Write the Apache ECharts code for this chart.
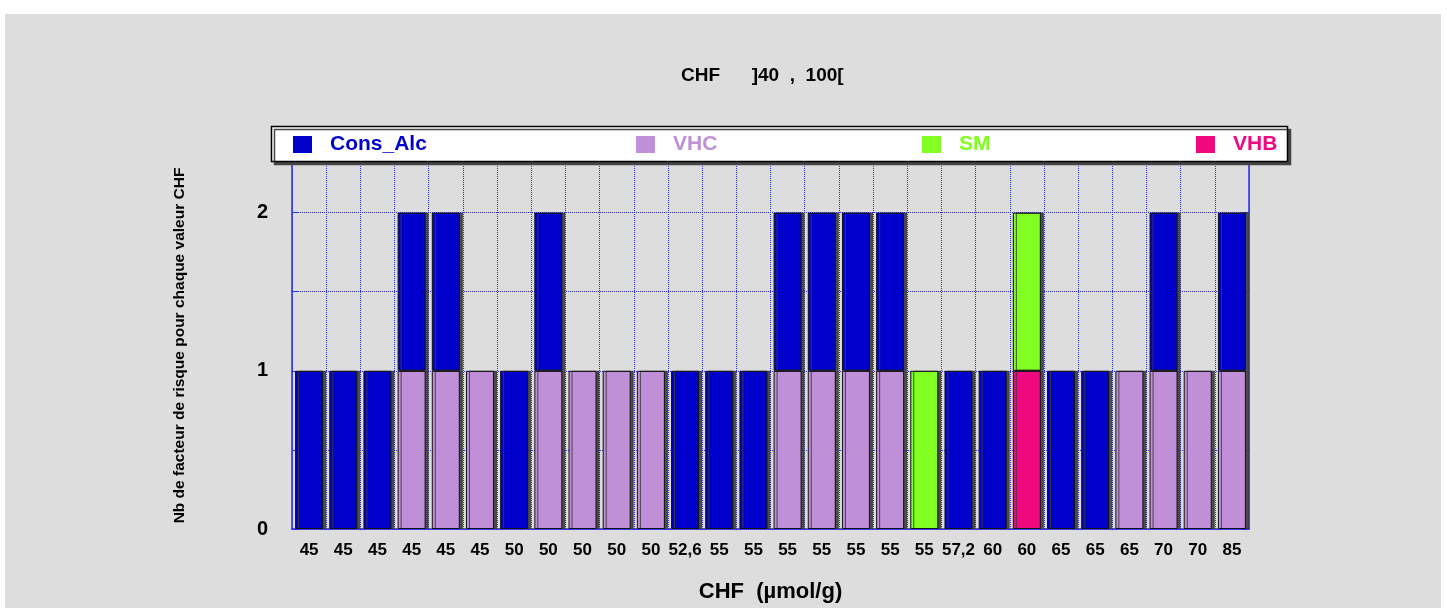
<!DOCTYPE html>
<html><head><meta charset="utf-8">
<script src="https://cdn.jsdelivr.net/npm/echarts@6/dist/echarts.min.js"></script>
<style>html,body{margin:0;padding:0;background:#fff;overflow:hidden;}#c{width:1447px;height:608px;}</style>
</head><body><div id="c"></div>
<script>
var categories = ['45','45','45','45','45','45','50','50','50','50','50','52,6','55','55','55','55','55','55','55','57,2','60','60','65','65','65','70','70','85'];
var consAlc = [1,1,1,1,1,0,1,1,0,0,0,1,1,1,1,1,1,1,0,1,1,0,1,1,0,1,0,1];
var vhc     = [0,0,0,1,1,1,0,1,1,1,1,0,0,0,1,1,1,1,0,0,0,0,0,0,1,1,1,1];
var sm      = [0,0,0,0,0,0,0,0,0,0,0,0,0,0,0,0,0,0,1,0,0,1,0,0,0,0,0,0];
var vhb     = [0,0,0,0,0,0,0,0,0,0,0,0,0,0,0,0,0,0,0,0,0,1,0,0,0,0,0,0];
var yTicks = [0,1,2];
var seriesNames = ['Cons_Alc','VHC','SM','VHB'];
var seriesColors = {'Cons_Alc':'#0000cc','VHC':'#bf8fd8','SM':'#80ff20','VHB':'#f0087f'};

function nz(a){return a.map(function(v){return v===0?null:v;});}
var font = 'Liberation Sans, Arial, sans-serif';
var grid = '#2b2bea';
function ser(name,data){
  return {name:name,type:'bar',stack:'s',data:nz(data),barWidth:28,
    itemStyle:{color:seriesColors[name],borderColor:'#111',borderWidth:1,shadowColor:'rgba(60,60,60,0.9)',shadowOffsetX:3,shadowOffsetY:0,shadowBlur:0}};
}
var legendLeft = [293,636,922,1196];
var legends = seriesNames.map(function(n,i){
  return {data:[n],left:legendLeft[i],top:134,padding:0,z:10,itemWidth:19,itemHeight:17,icon:'rect',
    itemStyle:{borderWidth:0,shadowColor:'transparent',shadowOffsetX:0,shadowBlur:0},
    textStyle:{color:seriesColors[n],fontFamily:font,fontWeight:'bold',fontSize:21,padding:[0,0,0,13]}};
});
var chart = echarts.init(document.getElementById('c'));
chart.setOption({
  animation:false,
  backgroundColor:'#fff',
  graphic:[
    {type:'rect',z:-10,shape:{x:5,y:14,width:1436,height:594},style:{fill:'#dcdddc'}},
    {type:'rect',z:5,shape:{x:271.5,y:126.5,width:1016,height:35},style:{fill:'#fff',stroke:'#000',lineWidth:1.5,shadowColor:'#444',shadowOffsetX:3,shadowOffsetY:3,shadowBlur:0}}
  ],
  title:{text:'CHF      ]40  ,  100[',left:681,top:66,padding:0,textStyle:{fontFamily:font,fontWeight:'bold',fontSize:19,color:'#000'}},
  legend:legends,
  grid:{left:292,width:957,top:162,height:374},
  xAxis:{type:'category',data:categories,
    axisLine:{lineStyle:{color:grid,width:1.5}},axisTick:{show:false},
    axisLabel:{color:'#000',fontFamily:font,fontWeight:'bold',fontSize:17,margin:13,interval:0},
    splitLine:{show:true,interval:0,lineStyle:{color:grid,type:'dotted',width:1}},
    name:'CHF  (µmol/g)',nameLocation:'middle',nameGap:52,
    nameTextStyle:{color:'#000',fontFamily:font,fontWeight:'bold',fontSize:22}},
  yAxis:[{type:'value',min:0,max:2.32,interval:0.5,
    axisLine:{show:true,lineStyle:{color:grid,width:1.5}},
    axisTick:{show:true,inside:true,length:6,lineStyle:{color:grid}},
    axisLabel:{color:'#000',fontFamily:font,fontWeight:'bold',fontSize:20,margin:24,
      formatter:function(v){return yTicks.indexOf(v)>=0?String(v):'';}},
    splitLine:{show:true,lineStyle:{color:grid,type:'dotted',width:1}},
    name:'Nb de facteur de risque pour chaque valeur CHF',nameLocation:'middle',nameGap:104,
    nameTextStyle:{color:'#000',fontFamily:font,fontWeight:'bold',fontSize:15.5}},
   {type:'value',min:0,max:2.32,interval:0.5,position:'right',
    axisLine:{show:true,lineStyle:{color:grid,width:1.5}},
    axisTick:{show:true,inside:true,length:6,lineStyle:{color:grid}},
    axisLabel:{show:false},splitLine:{show:false}}],
  series:[
    ser('VHB',vhb),
    ser('VHC',vhc),
    ser('SM',sm),
    ser('Cons_Alc',consAlc)
  ]
});
</script></body></html>
